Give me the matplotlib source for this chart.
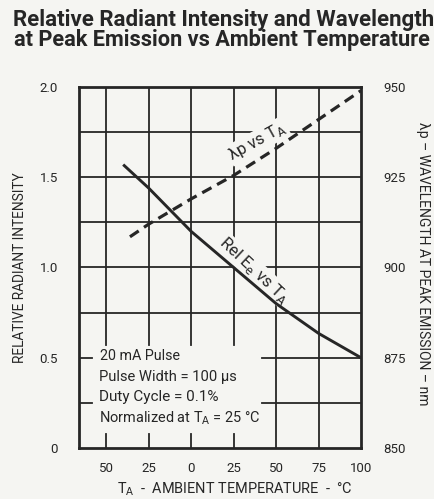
import numpy as np
import matplotlib
matplotlib.use('Agg')
import matplotlib.pyplot as plt

plt.rcParams['font.family'] = ['Roboto', 'DejaVu Sans']

# data
temp_rel = [-40, -25, 0, 25, 50, 75, 100]
rel_ee = [1.57, 1.44, 1.20, 1.00, 0.80, 0.635, 0.50]

temp_wl = [-36, -25, 0, 25, 50, 75, 100]
wl_peak = [908.5, 912.0, 919.0, 925.5, 933.0, 941.0, 949.0]

x_ticks = [-50, -25, 0, 25, 50, 75, 100]
x_ticklabels = ['50', '25', '0', '25', '50', '75', '100']
y_ticks = [0, 0.5, 1.0, 1.5, 2.0]
y_ticklabels = ['0', '0.5', '1.0', '1.5', '2.0']
wl_ticks = [850, 875, 900, 925, 950]
x_grid = [-50, -25, 0, 25, 50, 75]
y_grid = [0.25, 0.5, 0.75, 1.0, 1.25, 1.5, 1.75]

notes = ['20 mA Pulse', 'Pulse Width = 100 μs', 'Duty Cycle = 0.1%',
         'Normalized at T$_\\mathrm{A}$ = 25 °C']
note_widths = [80, 139, 119, 161]

bg = '#f5f5f2'
ink = '#262626'

fig = plt.figure(figsize=(4.35, 4.99), dpi=100, facecolor=bg)
ax = fig.add_axes([0.1816, 0.1022, 0.6484, 0.7235], facecolor=bg)
ax.set_xlim(-66, 100)
ax.set_ylim(0, 2.0)


def fit(txt, target, vertical=False):
    # shrink/grow a text until its drawn size matches the reference
    r = fig.canvas.get_renderer()
    for _ in range(3):
        bb = txt.get_window_extent(renderer=r)
        size = bb.height if vertical else bb.width
        txt.set_fontsize(txt.get_fontsize() * target / size)


# grid, with the lower left left open for the test-condition notes
for x in x_grid:
    if x <= 25:
        ax.axvline(x, ymin=0.285, ymax=1, color=ink, lw=1.3, zorder=1)
        ax.axvline(x, ymin=0, ymax=0.04, color=ink, lw=1.3, zorder=1)
    else:
        ax.axvline(x, color=ink, lw=1.3, zorder=1)
for y in y_grid:
    if y <= 0.5:
        ax.axhline(y, xmin=0, xmax=0.046, color=ink, lw=1.3, zorder=1)
        ax.axhline(y, xmin=0.65, xmax=1, color=ink, lw=1.3, zorder=1)
    else:
        ax.axhline(y, color=ink, lw=1.3, zorder=1)

ax.plot(temp_rel, rel_ee, color=ink, lw=2.1, zorder=4, solid_capstyle='butt')

ax.set_xticks(x_ticks)
ax.set_xticklabels(x_ticklabels)
ax.set_yticks(y_ticks)
ax.set_yticklabels(y_ticklabels)
ax.tick_params(axis='both', length=0, labelsize=9.5, colors=ink)
ax.tick_params(axis='x', pad=10)
ax.tick_params(axis='y', pad=15)
for s in ax.spines.values():
    s.set_linewidth(2)
    s.set_color(ink)

ax2 = ax.twinx()
ax2.set_ylim(850, 950)
ax2.set_yticks(wl_ticks)
ax2.tick_params(axis='y', length=0, labelsize=9.5, colors=ink, pad=16)
ax2.plot(temp_wl, wl_peak, color=ink, lw=2.3, dashes=(3.3, 2.0), zorder=4)
for s in ax2.spines.values():
    s.set_visible(False)

yl = ax.set_ylabel('RELATIVE RADIANT INTENSITY', fontsize=9.5, color=ink)
ax.yaxis.set_label_coords(-0.209, 0.5)
yl.set_va('center')
yl.set_ha('center')
yr = ax2.set_ylabel('λp – WAVELENGTH AT PEAK EMISSION – nm', fontsize=9.5,
                    color=ink, rotation=-90)
ax2.yaxis.set_label_coords(1.22, 0.51)
yr.set_va('center')
yr.set_ha('center')
xl = ax.set_xlabel('T$_\\mathrm{A}$  -  AMBIENT TEMPERATURE  -  °C',
                   fontsize=10, color=ink)
ax.xaxis.set_label_coords(0.551, -0.114)
xl.set_va('center')

fig.canvas.draw()
fit(yl, 191, vertical=True)
fit(yr, 283, vertical=True)
fit(xl, 235)

lbl_box = dict(facecolor=bg, edgecolor='none', pad=1)
ax.text(39, 1.70, 'λp vs T$_\\mathrm{A}$', rotation=29, fontsize=12,
        color=ink, ha='center', va='center', bbox=lbl_box, zorder=3)
ax.text(37, 0.985, 'Rel E$_\\mathrm{e}$ vs T$_\\mathrm{A}$', rotation=-43,
        fontsize=12, color=ink, ha='center', va='center', bbox=lbl_box, zorder=3)

for i, line in enumerate(notes):
    t = ax.text(-54.5 + (1 if i == 0 else 0), 0.51 - i * 0.114, line,
                fontsize=10, color=ink, ha='left', va='center')
    fit(t, note_widths[i])

t1 = fig.text(0.513, 0.960, 'Relative Radiant Intensity and Wavelength',
              fontsize=14, fontweight='bold', color=ink, ha='center', va='center')
t2 = fig.text(0.510, 0.920, 'at Peak Emission vs Ambient Temperature',
              fontsize=14, fontweight='bold', color=ink, ha='center', va='center')
fit(t1, 421)
fit(t2, 418)

fig.savefig('out.png', dpi=100, facecolor=bg)
